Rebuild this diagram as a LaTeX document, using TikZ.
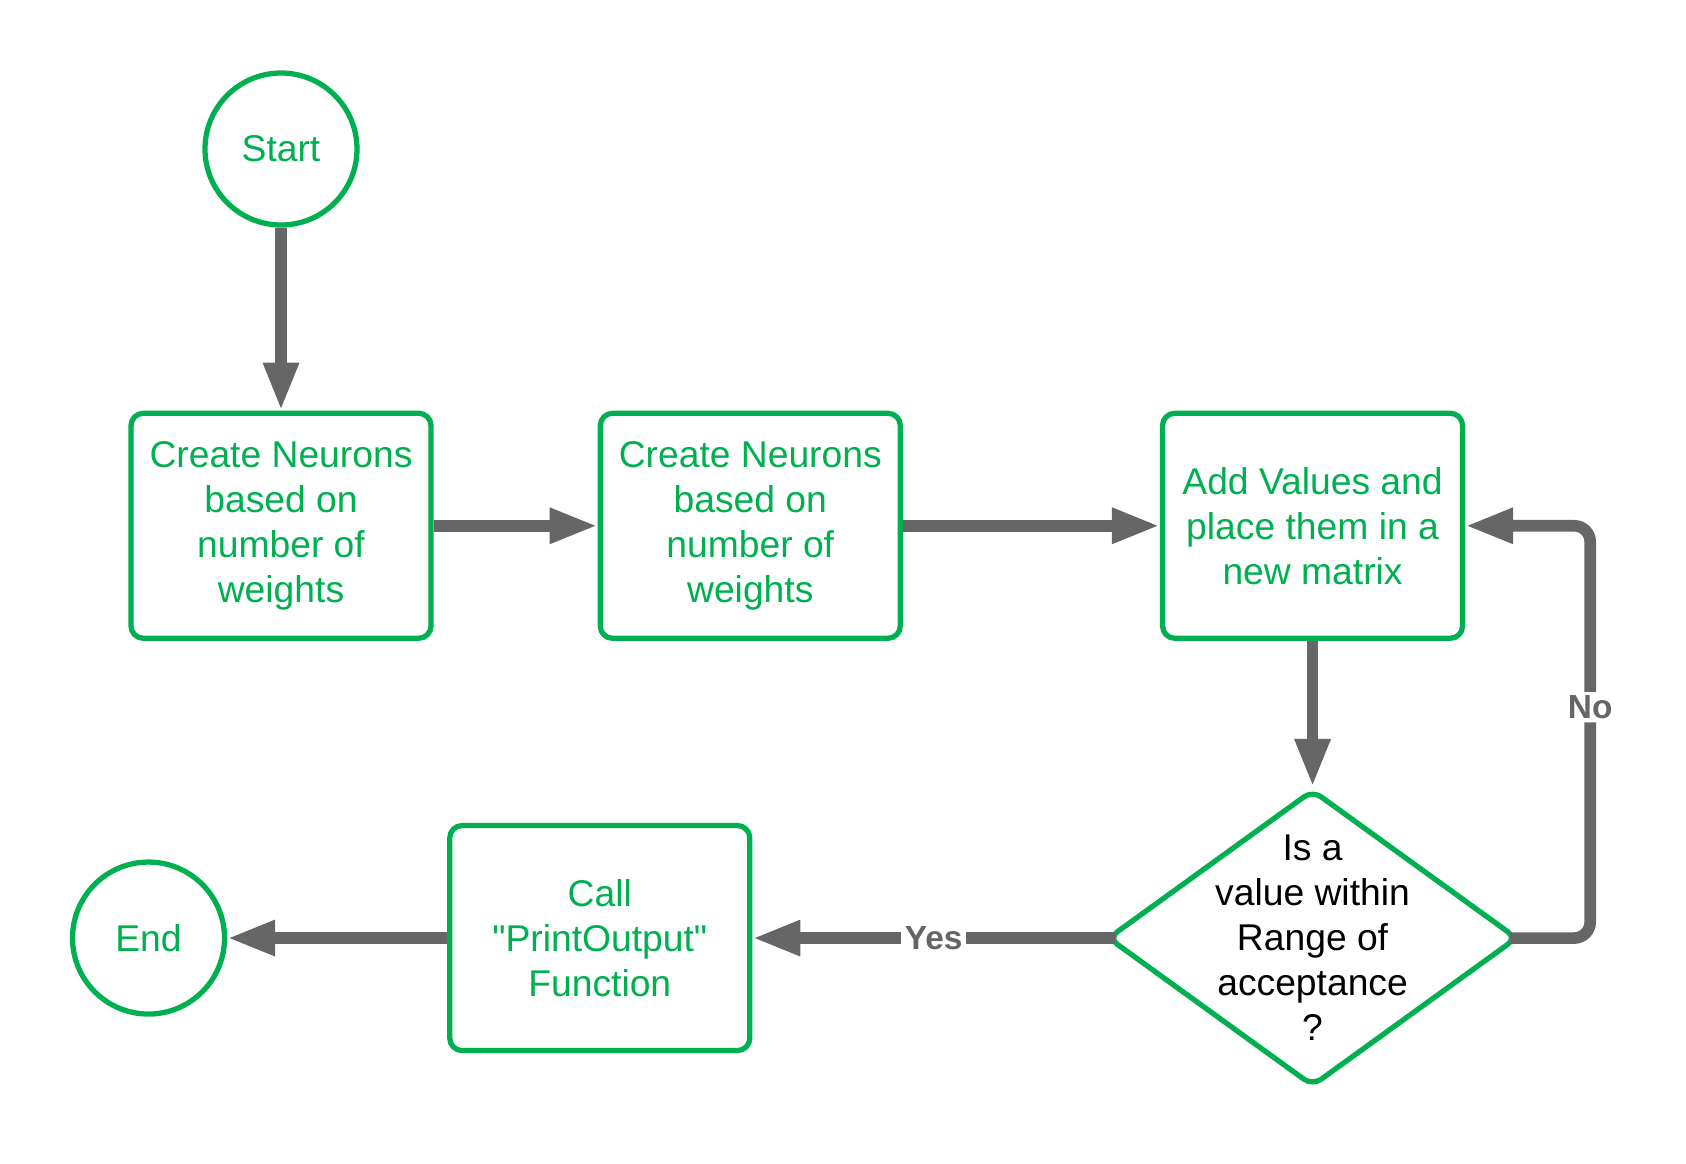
\documentclass[tikz,border=0pt]{standalone}
\usepackage{fontspec}
\setmainfont{Liberation Sans}
\usetikzlibrary{arrows.meta,positioning,shapes.geometric}
\definecolor{boxgreen}{HTML}{00B050}
\definecolor{linkgray}{HTML}{666666}

\begin{document}
\begin{tikzpicture}[process/.style={rectangle,draw=boxgreen,line width=1.5pt,align=center,text=boxgreen,minimum width=3cm,minimum height=2.25cm,inner sep=0pt,rounded corners=3.5pt,font=\fontsize{10.6}{12.8}\selectfont}, terminal/.style={circle,draw=boxgreen,line width=1.5pt,text=boxgreen,minimum size=1.52cm,inner sep=0pt,font=\fontsize{10.6}{12.8}\selectfont}, decision/.style={diamond,draw=boxgreen,line width=1.5pt,minimum width=4.1cm,minimum height=2.97cm,inner sep=0pt,rounded corners=3pt}, links/.style={-{Triangle[length=0.48cm,width=0.33cm]}, draw=linkgray, line width=3.3pt}, answer/.style={fill=white,text=linkgray,inner sep=1pt,font=\fontsize{9.5}{11}\selectfont\bfseries}]

	\useasboundingbox (0,0) rectangle (16.86,-11.63);

	\node[terminal] (start) at (2.81,-1.49) {Start};
	\node[process, below = 1.83cm of start] (create-first) {Create Neurons\\based on\\number of\\weights};
	\node[process, right = 1.64cm of create-first] (create-second) {Create Neurons\\based on\\number of\\weights};
	\node[process, right = 2.57cm of create-second] (add-values) {Add Values and\\place them in a\\new matrix};
	\draw[links] (start) -- (create-first);
	\draw[links] (create-first) -- (create-second);
	\draw[links] (create-second) -- (add-values);


	\node[decision, below = 1.46cm of add-values, label={[align=center,font=\fontsize{10.6}{12.8}\selectfont]center:{Is a\\value within\\Range of\\acceptance\\?}}] (check) {};
	\draw[links] (add-values) -- (check);
	\draw[links, rounded corners=0.16cm] ([xshift=-0.1cm]check.east) -- ++(0.8,0) |- node[answer, pos=0.28] {No} (add-values.east);


	\node[process, left = 3.525cm of check] (print-output) {Call\\\textquotedbl PrintOutput\textquotedbl\\Function};
	\node[terminal, left = 2.2cm of print-output] (end) {End};
	\draw[links] ([xshift=0.1cm]check.west) -- node[answer] {Yes} (print-output);
	\draw[links] (print-output) -- (end);

\end{tikzpicture}
\end{document}
